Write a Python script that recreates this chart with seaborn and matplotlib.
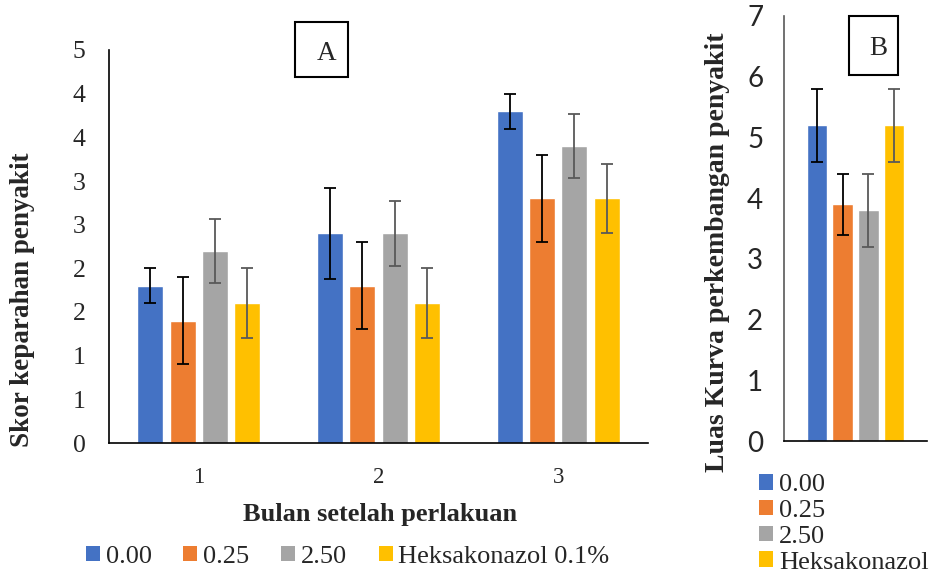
import matplotlib
matplotlib.use("Agg")
import matplotlib.pyplot as plt
import seaborn as sns
import pandas as pd
from matplotlib.patches import Rectangle, Patch

# ---------------- data ----------------
treatments = ["0.00", "0.25", "2.50", "Heksakonazol 0.1%"]
legend_labels_b = ["0.00", "0.25", "2.50", "Heksakonazol"]
months = ["1", "2", "3"]

sev_000 = [1.8, 2.4, 3.8]
sev_025 = [1.4, 1.8, 2.8]
sev_250 = [2.2, 2.4, 3.4]
sev_hek = [1.6, 1.6, 2.8]

err_000 = [0.2, 0.52, 0.2]
err_025 = [0.5, 0.5, 0.5]
err_250 = [0.37, 0.37, 0.37]
err_hek = [0.4, 0.4, 0.4]

auc_values = [5.2, 3.9, 3.8, 5.2]
auc_errors = [0.6, 0.5, 0.6, 0.6]

y_ticks_a = [0, 0.5, 1, 1.5, 2, 2.5, 3, 3.5, 4, 4.5]
y_ticklabels_a = ["0", "1", "1", "2", "2", "3", "3", "4", "4", "5"]
y_ticks_b = [0, 1, 2, 3, 4, 5, 6, 7]

colors = ["#4472C4", "#ED7D31", "#A5A5A5", "#FFC000"]
err_colors = ["#000000", "#000000", "#595959", "#595959"]

# ---------------- frames ----------------
sev_series = [sev_000, sev_025, sev_250, sev_hek]
err_series = [err_000, err_025, err_250, err_hek]
rows = []
for t, vals in zip(treatments, sev_series):
    for m, v in zip(months, vals):
        rows.append({"month": m, "treatment": t, "value": v})
df_a = pd.DataFrame(rows)
df_b = pd.DataFrame({"group": [""] * 4, "treatment": treatments, "value": auc_values})

sns.set_theme(style="white")
plt.rcParams["font.family"] = ["Liberation Serif", "DejaVu Serif"]

fig = plt.figure(figsize=(9.4, 5.85), dpi=100)
W, H = 940, 585

def rect(x0, y0, x1, y1):
    return [x0 / W, 1 - y1 / H, (x1 - x0) / W, (y1 - y0) / H]

ax = fig.add_axes(rect(109, 50, 648, 443))
axb = fig.add_axes(rect(784, 16, 927, 441))

palette = dict(zip(treatments, colors))

# ---------------- chart A ----------------
sns.barplot(data=df_a, x="month", y="value", hue="treatment", hue_order=treatments,
            order=months, palette=palette, width=0.72, gap=0.2, errorbar=None,
            legend=False, ax=ax, saturation=1)
for cont, errs, ec in zip(ax.containers, err_series, err_colors):
    for bar, e in zip(cont, errs):
        ax.errorbar(bar.get_x() + bar.get_width() / 2, bar.get_height(), yerr=e,
                    fmt="none", ecolor=ec, elinewidth=1.3, capsize=4.3, capthick=1.3)

ax.set_xlim(-0.5, 2.5)
ax.set_ylim(0, 4.5)
ax.set_yticks(y_ticks_a)
ax.set_yticklabels(y_ticklabels_a)
ax.set_xticks([0, 1, 2])
ax.set_xticklabels(months)
ax.set_xticks([-0.5, 0.5, 1.5, 2.5], minor=True)
ax.tick_params(axis="x", which="major", length=0, pad=17, labelsize=16.5)
ax.tick_params(axis="x", which="minor", length=7, width=1.2, color="black", direction="out")
ax.tick_params(axis="y", length=6, width=1.0, color="black", direction="out", labelsize=18.5, pad=11)
for s in ["top", "right"]:
    ax.spines[s].set_visible(False)
for s in ["left", "bottom"]:
    ax.spines[s].set_color("black")
    ax.spines[s].set_linewidth(1.2)
ax.set_xlabel("")
ax.set_ylabel("")

# ---------------- chart B ----------------
sns.barplot(data=df_b, x="group", y="value", hue="treatment", hue_order=treatments,
            palette=palette, width=0.72, gap=0.2, errorbar=None, legend=False,
            ax=axb, saturation=1)
for cont, e, ec in zip(axb.containers, auc_errors, err_colors):
    for bar in cont:
        axb.errorbar(bar.get_x() + bar.get_width() / 2, bar.get_height(), yerr=e,
                     fmt="none", ecolor=ec, elinewidth=1.3, capsize=4.3, capthick=1.3)
axb.set_xlim(-0.5, 0.5)
axb.set_ylim(0, 7)
axb.set_yticks(y_ticks_b)
axb.set_xticks([-0.5, 0.5])
axb.set_xticklabels(["", ""])
axb.tick_params(axis="x", length=7, width=1.2, color="black", direction="out")
axb.tick_params(axis="y", length=5, width=1.0, color="#595959", direction="out", labelsize=20, pad=10)
for lab in axb.get_yticklabels():
    lab.set_fontfamily(["Lato", "DejaVu Sans"])
for s in ["top", "right"]:
    axb.spines[s].set_visible(False)
axb.spines["left"].set_color("#595959")
axb.spines["bottom"].set_color("black")
axb.spines["left"].set_linewidth(1.2)
axb.spines["bottom"].set_linewidth(1.2)
axb.set_xlabel("")
axb.set_ylabel("")

# ---------------- labels ----------------
fig.text(23 / W, 1 - 300 / H, "Skor keparahan penyakit", rotation=90, ha="center",
         va="center", fontsize=19.5, fontweight="bold")
fig.text(718 / W, 1 - 252 / H, "Luas Kurva perkembangan penyakit", rotation=90,
         ha="center", va="center", fontsize=20, fontweight="bold")
fig.text(380 / W, 1 - 514 / H, "Bulan setelah perlakuan", ha="center", va="center",
         fontsize=19, fontweight="bold")

# panel letters
for (x0, y0, x1, y1, lx, ly, letter) in [(295, 22, 348, 77, 327, 60, "A"),
                                         (849, 16, 898, 75, 878, 55, "B")]:
    fig.patches.append(Rectangle((x0 / W, 1 - y1 / H), (x1 - x0) / W, (y1 - y0) / H,
                                 transform=fig.transFigure, fill=False,
                                 edgecolor="black", linewidth=1.5))
    fig.text(lx / W, 1 - ly / H, letter, ha="center", va="baseline", fontsize=19.5)

# legends
handles_a = [Patch(facecolor=c, edgecolor="none", label=t) for c, t in zip(colors, treatments)]
fig.legend(handles=handles_a, loc="center left", bbox_to_anchor=(86 / W, 1 - 557 / H),
           ncol=4, frameon=False, fontsize=19, handlelength=0.53, handleheight=0.53,
           handletextpad=0.22, columnspacing=1.2, borderaxespad=0, borderpad=0)
handles_b = [Patch(facecolor=c, edgecolor="none", label=t) for c, t in zip(colors, legend_labels_b)]
fig.legend(handles=handles_b, loc="upper left", bbox_to_anchor=(759 / W, 1 - 474 / H),
           ncol=1, frameon=False, fontsize=19, handlelength=0.53, handleheight=0.53,
           handletextpad=0.22, labelspacing=0.14, borderaxespad=0, borderpad=0)

fig.savefig("out.png", dpi=100)
